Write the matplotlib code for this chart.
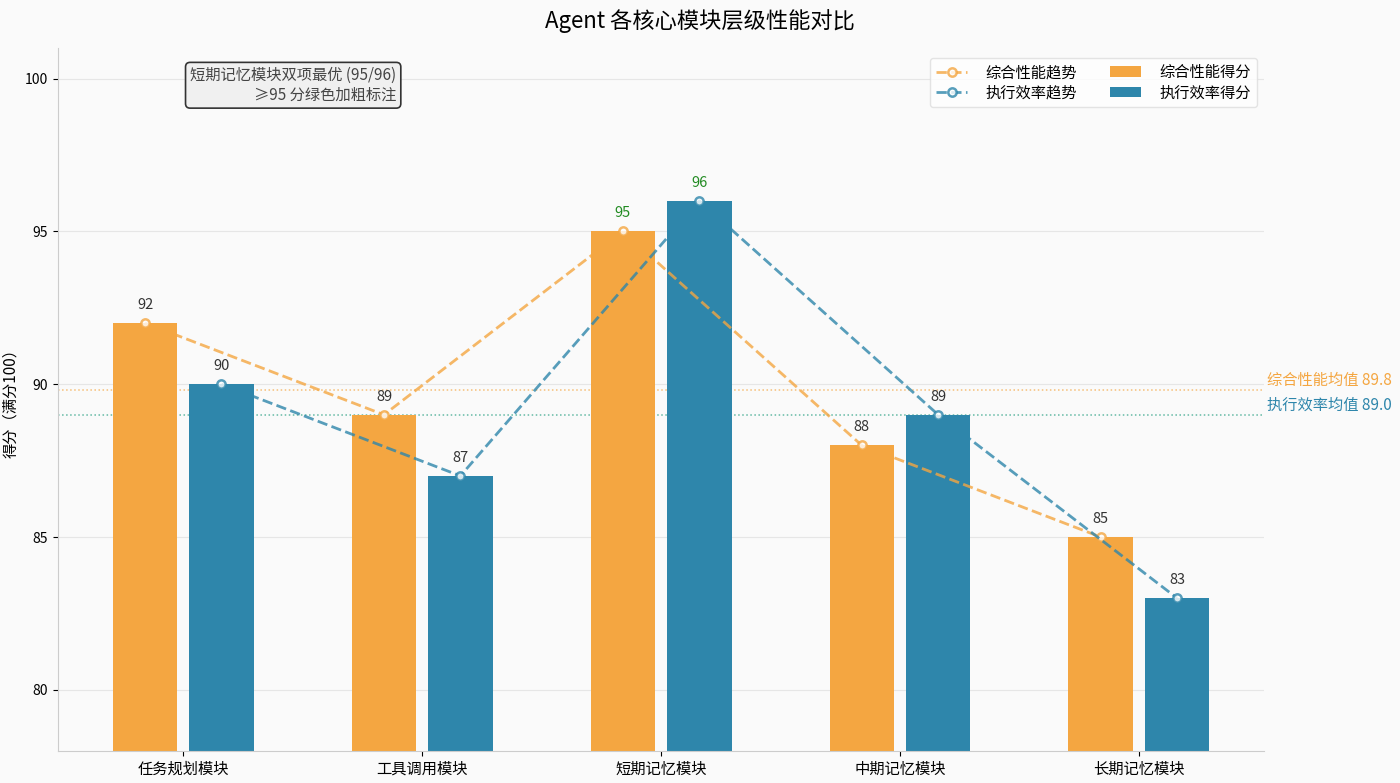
import matplotlib
matplotlib.use("Agg")
import matplotlib.pyplot as plt
import matplotlib.transforms as mtransforms
import numpy as np

plt.rcParams['font.family'] = ['Noto Sans CJK SC', 'DejaVu Sans']
plt.rcParams['axes.unicode_minus'] = False

categories = ['任务规划模块', '工具调用模块', '短期记忆模块', '中期记忆模块', '长期记忆模块']
overall = [92, 89, 95, 88, 85]
efficiency = [90, 87, 96, 89, 83]
yticks = [80, 85, 90, 95, 100]

c_orange = '#F4A641'
c_blue = '#2E86AB'
c_green = '#228B22'

fig = plt.figure(figsize=(14, 7.83), dpi=100, facecolor='#FAFAFA')
ax = fig.add_axes([0.0414, 0.0409, 0.8616, 0.8978])
ax.set_facecolor('#FAFAFA')

x = np.arange(len(categories))
off = 0.16
w = 0.27
ax.bar(x - off, overall, w, color=c_orange, label='综合性能得分', zorder=2)
ax.bar(x + off, efficiency, w, color=c_blue, label='执行效率得分', zorder=2)

l1, = ax.plot(x - off, overall, '--o', color=c_orange, alpha=0.8, lw=2, ms=6,
              mfc='white', mew=1.8, label='综合性能趋势', zorder=3)
l2, = ax.plot(x + off, efficiency, '--o', color=c_blue, alpha=0.8, lw=2, ms=6,
              mfc='white', mew=1.8, label='执行效率趋势', zorder=3)

for xs, vals in ((x - off, overall), (x + off, efficiency)):
    for xi, v in zip(xs, vals):
        good = v >= 95
        ax.annotate(f'{v}', (xi, v), xytext=(0, 8), textcoords='offset points',
                    ha='center', va='bottom', fontsize=10.5,
                    color=c_green if good else '#333333', zorder=4)

m1 = np.mean(overall)
m2 = np.mean(efficiency)
ax.axhline(m1, color=c_orange, ls=':', lw=1.1, alpha=0.7, zorder=1)
ax.axhline(m2, color='#3FA98F', ls=':', lw=1.1, alpha=0.8, zorder=1)
trans = mtransforms.blended_transform_factory(ax.transAxes, ax.transData)
ax.text(1.002, m1 + 0.05, f'综合性能均值 {m1:.1f}', transform=trans, color=c_orange,
        fontsize=11, va='bottom', ha='left')
ax.text(1.002, m2 + 0.05, f'执行效率均值 {m2:.1f}', transform=trans, color=c_blue,
        fontsize=11, va='bottom', ha='left')

ax.set_ylim(78, 101)
ax.set_yticks(yticks)
ax.set_xticks(x)
ax.set_xticklabels(categories, fontsize=11)
ax.tick_params(axis='y', labelsize=10)
ax.set_ylabel('得分（满分100）', fontsize=11, labelpad=4)
ax.yaxis.grid(True, color='#E6E6E6', lw=0.8, zorder=0)
ax.set_axisbelow(True)
for s in ('top', 'right'):
    ax.spines[s].set_visible(False)
for s in ('left', 'bottom'):
    ax.spines[s].set_color('#CCCCCC')

ax.text(0.195, 0.947, '短期记忆模块双项最优 (95/96)\n≥95 分绿色加粗标注', transform=ax.transAxes,
        ha='center', va='center', multialignment='right', fontsize=11, color='#444444',
        bbox=dict(boxstyle='round,pad=0.3', fc='#F0F0F0', ec='#333333', lw=1.2))

labels = ['综合性能趋势', '执行效率趋势', '综合性能得分', '执行效率得分']
leg = ax.legend([l1, l2, ax.containers[0], ax.containers[1]], labels, loc='upper right',
                ncol=2, fontsize=11, frameon=True, bbox_to_anchor=(0.9965, 0.99),
                borderaxespad=0.2, labelspacing=0.2, columnspacing=2.2, handletextpad=1.2)
leg.get_frame().set_edgecolor('#DDDDDD')

fig.suptitle('Agent 各核心模块层级性能对比', fontsize=16, y=0.988)

fig.savefig('out.png', dpi=100, facecolor=fig.get_facecolor())
